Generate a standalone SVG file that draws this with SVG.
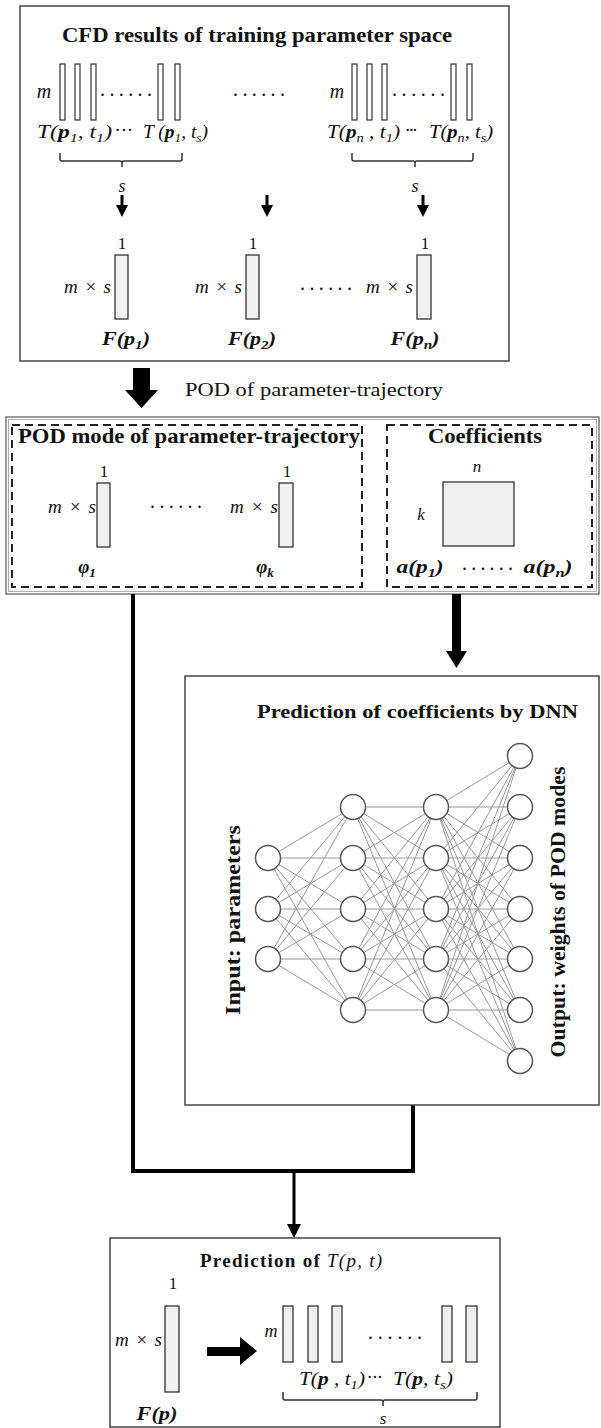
<svg xmlns="http://www.w3.org/2000/svg" width="601" height="1428" viewBox="0 0 601 1428">
<style>
.box{fill:#fff;stroke:#444;stroke-width:1.5}
.dash{fill:none;stroke:#222;stroke-width:2;stroke-dasharray:8 5}
.bar{fill:#fff;stroke:#333;stroke-width:1.2}
.col{fill:#f0f0f0;stroke:#333;stroke-width:1.3}
.t{font-family:"Liberation Serif",serif;fill:#111}
.b{font-weight:bold}
.i{font-style:italic}
.lbl{font-family:"Liberation Serif",serif;font-style:italic;font-size:19px;fill:#111}
.one{font-family:"Liberation Serif",serif;font-size:17px;fill:#111;text-anchor:middle}
.ms{font-family:"Liberation Serif",serif;font-style:italic;font-size:19px;fill:#111;text-anchor:end}
.fp{font-family:"Liberation Serif",serif;font-style:italic;font-weight:bold;font-size:19px;fill:#111;text-anchor:middle}
.dots{font-family:"Liberation Serif",serif;font-size:20px;fill:#111}
.edge{stroke:#999;stroke-width:1}
.node{fill:#fff;stroke:#555;stroke-width:1.5}
.conn{fill:none;stroke:#000;stroke-width:4}
</style>

<g id="cfd-results">
  <rect class="box" x="20" y="6" width="489" height="355"/>
  <text class="t b" x="62" y="42" font-size="21" textLength="390" lengthAdjust="spacingAndGlyphs">CFD results of training parameter space</text>
  <text class="t i" x="44" y="98" font-size="20" text-anchor="middle">m</text>
  <rect class="bar" x="60" y="64" width="5" height="56"/>
  <rect class="bar" x="75" y="64" width="5" height="56"/>
  <rect class="bar" x="91" y="64" width="5" height="56"/>
  <rect class="bar" x="158" y="64" width="5" height="56"/>
  <rect class="bar" x="175" y="64" width="5" height="56"/>
  <text class="dots" x="100" y="96" textLength="52">......</text>
  <text class="lbl" x="37" y="138" textLength="75" lengthAdjust="spacingAndGlyphs">T(<tspan class="b">p</tspan><tspan font-size="13" dy="4">1</tspan><tspan dy="-4">, t</tspan><tspan font-size="13" dy="4">1</tspan><tspan dy="-4">)</tspan></text>
  <text class="lbl" x="115" y="136" textLength="17">···</text>
  <text class="lbl" x="143" y="138" textLength="65" lengthAdjust="spacingAndGlyphs">T (<tspan class="b">p</tspan><tspan font-size="13" dy="4">1</tspan><tspan dy="-4">, t</tspan><tspan font-size="13" dy="4">s</tspan><tspan dy="-4">)</tspan></text>
  <path d="M60,153 L60,159 Q60,161 62,161 L120,161 Q122,161 122,163 L122,167 M122,163 Q122,161 124,161 L180,161 Q182,161 182,159 L182,153" fill="none" stroke="#333" stroke-width="1.5"/>
  <text class="t i" x="122" y="192" font-size="18" text-anchor="middle">s</text>

  <text class="dots" x="233" y="96" textLength="52">......</text>

  <text class="t i" x="337" y="98" font-size="20" text-anchor="middle">m</text>
  <rect class="bar" x="352" y="64" width="5" height="56"/>
  <rect class="bar" x="367" y="64" width="5" height="56"/>
  <rect class="bar" x="382" y="64" width="5" height="56"/>
  <rect class="bar" x="451" y="64" width="5" height="56"/>
  <rect class="bar" x="467" y="64" width="5" height="56"/>
  <text class="dots" x="392" y="96" textLength="53">......</text>
  <text class="lbl" x="327" y="138" textLength="73" lengthAdjust="spacingAndGlyphs">T(<tspan class="b">p</tspan><tspan font-size="13" dy="4">n</tspan><tspan dy="-4"> , t</tspan><tspan font-size="13" dy="4">1</tspan><tspan dy="-4">)</tspan></text>
  <text class="lbl" x="405" y="136" textLength="12">···</text>
  <text class="lbl" x="429" y="138" textLength="64" lengthAdjust="spacingAndGlyphs">T(<tspan class="b">p</tspan><tspan font-size="13" dy="4">n</tspan><tspan dy="-4">, t</tspan><tspan font-size="13" dy="4">s</tspan><tspan dy="-4">)</tspan></text>
  <path d="M352,153 L352,159 Q352,161 354,161 L413,161 Q415,161 415,163 L415,167 M415,163 Q415,161 417,161 L471,161 Q473,161 473,159 L473,153" fill="none" stroke="#333" stroke-width="1.5"/>
  <text class="t i" x="415" y="192" font-size="18" text-anchor="middle">s</text>

  <g fill="#000">
    <rect x="120.5" y="195" width="3" height="11"/>
    <polygon points="116,205 128,205 122,217"/>
    <rect x="265.5" y="195" width="3" height="11"/>
    <polygon points="261,205 273,205 267,217"/>
    <rect x="421.5" y="195" width="3" height="11"/>
    <polygon points="417,205 429,205 423,217"/>
  </g>

  <text class="one" x="122" y="249">1</text>
  <rect class="col" x="115" y="255" width="13" height="64"/>
  <text class="ms" x="111" y="293" textLength="47">m × s</text>
  <text class="fp" x="126" y="345" textLength="48" lengthAdjust="spacingAndGlyphs">F(p<tspan font-size="13" dy="4">1</tspan><tspan dy="-4">)</tspan></text>

  <text class="one" x="253" y="249">1</text>
  <rect class="col" x="246" y="255" width="13" height="64"/>
  <text class="ms" x="242" y="293" textLength="47">m × s</text>
  <text class="fp" x="252" y="345" textLength="48" lengthAdjust="spacingAndGlyphs">F(p<tspan font-size="13" dy="4">2</tspan><tspan dy="-4">)</tspan></text>

  <text class="dots" x="300" y="290" textLength="52">......</text>
  <text class="one" x="425" y="249">1</text>
  <rect class="col" x="417" y="255" width="14" height="64"/>
  <text class="ms" x="413" y="293" textLength="47">m × s</text>
  <text class="fp" x="415" y="345" textLength="49" lengthAdjust="spacingAndGlyphs">F(p<tspan font-size="13" dy="4">n</tspan><tspan dy="-4">)</tspan></text>
</g>

<g id="pod-label">
  <polygon points="133,368 150,368 150,390 158,390 141.5,408 125,390 133,390" fill="#000"/>
  <text class="t" x="185" y="396" font-size="19" textLength="258" lengthAdjust="spacingAndGlyphs">POD of parameter-trajectory</text>
</g>

<g id="pod-results">
  <rect x="6" y="417" width="593" height="177" fill="#fff" stroke="#555" stroke-width="1.2"/>
  <rect x="8.5" y="419.5" width="588" height="172" fill="none" stroke="#999" stroke-width="0.8"/>
  <g id="pod-modes">
    <rect class="dash" x="12" y="425" width="350" height="162"/>
    <text class="t b" x="18" y="443" font-size="20" textLength="342" lengthAdjust="spacingAndGlyphs">POD mode of parameter-trajectory</text>
    <text class="one" x="104" y="477">1</text>
    <rect class="col" x="97" y="483" width="13" height="64"/>
    <text class="ms" x="96" y="513" textLength="48">m × s</text>
    <text class="dots" x="150" y="508" textLength="52">......</text>
    <text class="one" x="287" y="477">1</text>
    <rect class="col" x="279" y="483" width="14" height="64"/>
    <text class="ms" x="278" y="513" textLength="48">m × s</text>
    <text class="fp" x="87" y="573">φ<tspan font-size="13" dy="4">1</tspan></text>
    <text class="fp" x="265" y="573">φ<tspan font-size="13" dy="4">k</tspan></text>
  </g>
  <g id="coefficients">
    <rect class="dash" x="387" y="425" width="205" height="162"/>
    <text class="t b" x="485" y="443" font-size="20" text-anchor="middle" textLength="114" lengthAdjust="spacingAndGlyphs">Coefficients</text>
    <text class="t i" x="477" y="472" font-size="17" text-anchor="middle">n</text>
    <rect class="col" x="443" y="482" width="71" height="64"/>
    <text class="t i" x="421" y="520" font-size="17" text-anchor="middle">k</text>
    <text class="fp" x="420" y="573" textLength="47" lengthAdjust="spacingAndGlyphs">a(p<tspan font-size="13" dy="4">1</tspan><tspan dy="-4">)</tspan></text>
    <text class="dots" x="462" y="570" textLength="51">......</text>
    <text class="fp" x="548" y="573" textLength="49" lengthAdjust="spacingAndGlyphs">a(p<tspan font-size="13" dy="4">n</tspan><tspan dy="-4">)</tspan></text>
  </g>
</g>

<g id="connectors">
  <polyline class="conn" points="133,594 133,1171 413,1171 413,1105"/>
  <rect x="292.5" y="1171" width="3" height="55" fill="#000"/>
  <polygon points="287,1224 301,1224 294,1238" fill="#000"/>
  <rect x="452" y="594" width="9" height="58" fill="#000"/>
  <polygon points="446,651 467,651 456.5,668" fill="#000"/>
</g>

<g id="dnn">
  <rect class="box" x="185" y="676" width="414" height="429"/>
  <text class="t b" x="257" y="718" font-size="19" textLength="321" lengthAdjust="spacingAndGlyphs">Prediction of coefficients by DNN</text>
  <g id="dnn-edges">
    <path class="edge" d="M268,858 L353,807 M268,858 L353,858 M268,858 L353,909 M268,858 L353,959 M268,858 L353,1010 M268,909 L353,807 M268,909 L353,858 M268,909 L353,909 M268,909 L353,959 M268,909 L353,1010 M268,959 L353,807 M268,959 L353,858 M268,959 L353,909 M268,959 L353,959 M268,959 L353,1010"/>
    <path class="edge" d="M353,807 L436,807 M353,807 L436,858 M353,807 L436,909 M353,807 L436,959 M353,807 L436,1010 M353,858 L436,807 M353,858 L436,858 M353,858 L436,909 M353,858 L436,959 M353,858 L436,1010 M353,909 L436,807 M353,909 L436,858 M353,909 L436,909 M353,909 L436,959 M353,909 L436,1010 M353,959 L436,807 M353,959 L436,858 M353,959 L436,909 M353,959 L436,959 M353,959 L436,1010 M353,1010 L436,807 M353,1010 L436,858 M353,1010 L436,909 M353,1010 L436,959 M353,1010 L436,1010"/>
    <path class="edge" d="M436,807 L520,756 M436,807 L520,807 M436,807 L520,858 M436,807 L520,909 M436,807 L520,959 M436,807 L520,1010 M436,807 L520,1061 M436,858 L520,756 M436,858 L520,807 M436,858 L520,858 M436,858 L520,909 M436,858 L520,959 M436,858 L520,1010 M436,858 L520,1061 M436,909 L520,756 M436,909 L520,807 M436,909 L520,858 M436,909 L520,909 M436,909 L520,959 M436,909 L520,1010 M436,909 L520,1061 M436,959 L520,756 M436,959 L520,807 M436,959 L520,858 M436,959 L520,909 M436,959 L520,959 M436,959 L520,1010 M436,959 L520,1061 M436,1010 L520,756 M436,1010 L520,807 M436,1010 L520,858 M436,1010 L520,909 M436,1010 L520,959 M436,1010 L520,1010 M436,1010 L520,1061"/>
  </g>
  <g id="dnn-nodes">
    <circle class="node" cx="268" cy="858" r="12.5"/>
    <circle class="node" cx="268" cy="909" r="12.5"/>
    <circle class="node" cx="268" cy="959" r="12.5"/>
    <circle class="node" cx="353" cy="807" r="12.5"/>
    <circle class="node" cx="353" cy="858" r="12.5"/>
    <circle class="node" cx="353" cy="909" r="12.5"/>
    <circle class="node" cx="353" cy="959" r="12.5"/>
    <circle class="node" cx="353" cy="1010" r="12.5"/>
    <circle class="node" cx="436" cy="807" r="12.5"/>
    <circle class="node" cx="436" cy="858" r="12.5"/>
    <circle class="node" cx="436" cy="909" r="12.5"/>
    <circle class="node" cx="436" cy="959" r="12.5"/>
    <circle class="node" cx="436" cy="1010" r="12.5"/>
    <circle class="node" cx="520" cy="756" r="12.5"/>
    <circle class="node" cx="520" cy="807" r="12.5"/>
    <circle class="node" cx="520" cy="858" r="12.5"/>
    <circle class="node" cx="520" cy="909" r="12.5"/>
    <circle class="node" cx="520" cy="959" r="12.5"/>
    <circle class="node" cx="520" cy="1010" r="12.5"/>
    <circle class="node" cx="520" cy="1061" r="12.5"/>
  </g>
  <text class="t b" transform="translate(240,920) rotate(-90)" font-size="22" text-anchor="middle" textLength="190" lengthAdjust="spacingAndGlyphs">Input: parameters</text>
  <text class="t b" transform="translate(565,912) rotate(-90)" font-size="20" text-anchor="middle" textLength="291" lengthAdjust="spacingAndGlyphs">Output: weights of POD modes</text>
</g>

<g id="prediction">
  <rect class="box" x="110" y="1238" width="390" height="189"/>
  <text class="t b" x="200" y="1267" font-size="19" textLength="182">Prediction of <tspan font-weight="normal" font-style="italic">T(p, t)</tspan></text>
  <text class="one" x="173" y="1289">1</text>
  <rect class="col" x="165" y="1306" width="14" height="86"/>
  <text class="ms" x="162" y="1346" textLength="47">m × s</text>
  <text class="fp" x="157" y="1420" textLength="41" lengthAdjust="spacingAndGlyphs">F(p)</text>
  <polygon points="207,1347 240,1347 240,1337 257,1351 240,1365 240,1356 207,1356" fill="#000"/>
  <text class="t i" x="271" y="1337" font-size="18" text-anchor="middle">m</text>
  <rect class="col" x="283" y="1306" width="10" height="56"/>
  <rect class="col" x="308" y="1306" width="10" height="56"/>
  <rect class="col" x="332" y="1306" width="10" height="56"/>
  <rect class="col" x="442" y="1306" width="10" height="56"/>
  <rect class="col" x="466" y="1306" width="11" height="56"/>
  <text class="dots" x="368" y="1339" textLength="54">......</text>
  <text class="lbl" x="299" y="1385" textLength="66" lengthAdjust="spacingAndGlyphs">T(<tspan class="b">p</tspan><tspan> , t</tspan><tspan font-size="13" dy="4">1</tspan><tspan dy="-4">)</tspan></text>
  <text class="lbl" x="367" y="1383" textLength="15">···</text>
  <text class="lbl" x="393" y="1385" textLength="60" lengthAdjust="spacingAndGlyphs">T(<tspan class="b">p</tspan><tspan>, t</tspan><tspan font-size="13" dy="4">s</tspan><tspan dy="-4">)</tspan></text>
  <path d="M283,1392 L283,1398 Q283,1400 285,1400 L381,1400 Q383,1400 383,1402 L383,1406 M383,1402 Q383,1400 385,1400 L475,1400 Q477,1400 477,1398 L477,1392" fill="none" stroke="#333" stroke-width="1.5"/>
  <text class="t i" x="383" y="1424" font-size="17" text-anchor="middle">s</text>
</g>
</svg>
